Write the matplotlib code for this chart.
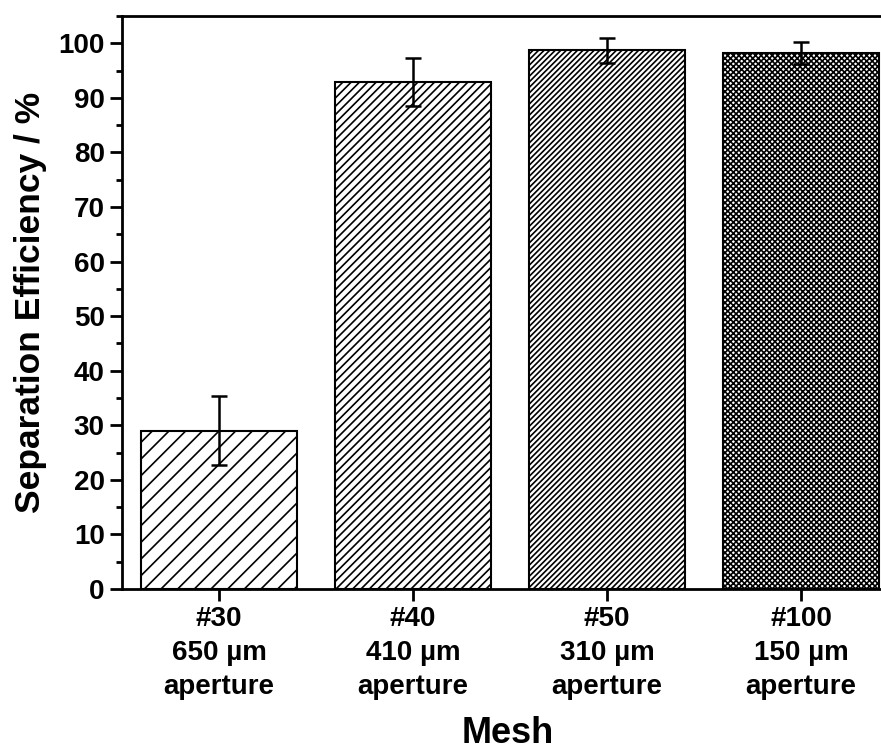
import matplotlib
matplotlib.use("Agg")
import matplotlib.pyplot as plt
from matplotlib.ticker import MultipleLocator

plt.rcParams['font.family'] = ['Liberation Sans', 'DejaVu Sans']
plt.rcParams['hatch.linewidth'] = 1.2

categories = ["#30\n650 µm\naperture", "#40\n410 µm\naperture",
              "#50\n310 µm\naperture", "#100\n150 µm\naperture"]
efficiency = [29.0, 92.9, 98.7, 98.2]
errors = [6.3, 4.4, 2.3, 2.0]
hatches = ['//', '////', '//////', 'xxxxxx']

fig = plt.figure(figsize=(8.81, 7.53), dpi=100)
ax = fig.add_axes([122/881, 164/753, 776/881, 573/753])

x = range(len(categories))
bars = ax.bar(x, efficiency, width=0.8, color='white', edgecolor='black',
              linewidth=1.5, yerr=errors, capsize=6,
              error_kw=dict(elinewidth=1.8, capthick=1.8, ecolor='black'))
for b, h in zip(bars, hatches):
    b.set_hatch(h)

ax.set_xlim(-0.5, 3.5)
ax.set_ylim(0, 105)
ax.yaxis.set_major_locator(MultipleLocator(10))
ax.yaxis.set_minor_locator(MultipleLocator(5))
ax.set_xticks(list(x))
ax.set_xticklabels(categories, fontsize=20, fontweight='bold', linespacing=1.4)
for lab in ax.get_yticklabels():
    lab.set_fontsize(20)
    lab.set_fontweight('bold')
ax.tick_params(axis='both', which='major', direction='out', length=8.5, width=2, pad=4)
ax.tick_params(axis='y', which='minor', direction='out', length=4, width=2)
for s in ax.spines.values():
    s.set_linewidth(2)

ax.set_ylabel("Separation Efficiency / %", fontsize=25.5, fontweight='bold', labelpad=8)
ax.set_xlabel("Mesh", fontsize=26, fontweight='bold')
ax.xaxis.label.set_va('bottom')
ax.xaxis.set_label_coords(0.497, -0.2825)

fig.savefig("out.png", dpi=100)
